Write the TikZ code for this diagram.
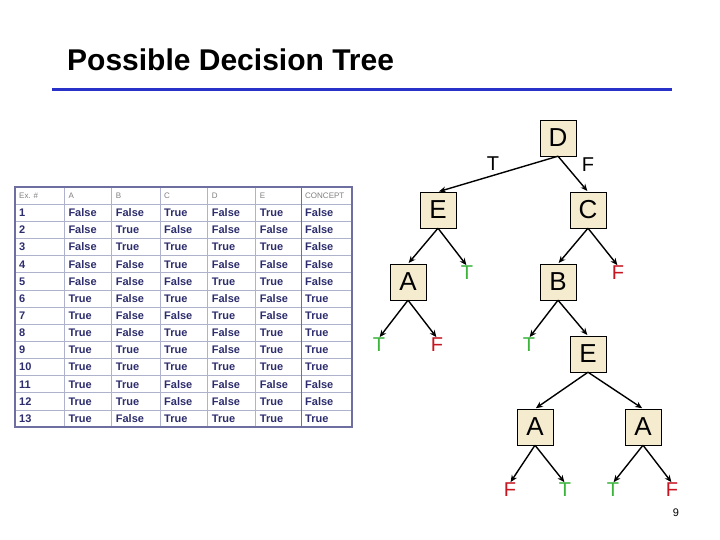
\documentclass[tikz,border=0pt]{standalone}
\usepackage{fontspec}
\setmainfont{Liberation Sans}
\usetikzlibrary{arrows.meta}
\definecolor{boxfill}{RGB}{245,236,208}
\definecolor{leafgreen}{RGB}{60,180,60}
\definecolor{leafred}{RGB}{200,20,30}
\definecolor{tabtext}{RGB}{45,45,110}
\definecolor{tabgrid}{RGB}{175,178,205}
\definecolor{tabborder}{RGB}{110,110,160}
\definecolor{rule}{RGB}{40,50,200}
\begin{document}
\begin{tikzpicture}[x=1pt,y=-1pt,
  dnode/.style={draw=black,fill=boxfill,minimum size=36pt,inner sep=0pt,font=\fontsize{26}{26}\selectfont},
  tleaf/.style={text=leafgreen,inner sep=0pt,font=\fontsize{20}{20}\selectfont},
  fleaf/.style={text=leafred,inner sep=0pt,font=\fontsize{20}{20}\selectfont},
  elab/.style={inner sep=0pt,font=\fontsize{20}{20}\selectfont},
  edge/.style={draw=black,line width=1.4pt,shorten >=1pt,-{Stealth[length=7pt,width=6pt]}},
  cell/.style={anchor=base west,inner sep=0pt,text=tabtext,font=\fontsize{11}{11}\selectfont\bfseries},
  hcell/.style={anchor=base west,inner sep=0pt,text=gray,font=\fontsize{8}{8}\selectfont}]
\useasboundingbox (0,0) rectangle (720,540);
\fill[white] (0,0) rectangle (720,540);
\node[anchor=west,inner sep=0pt,font=\fontsize{30}{30}\selectfont\bfseries] (title) at (67,60) {Possible Decision Tree};
\draw[rule,line width=3pt] (52,90) coordinate (r1) -- (672,90) coordinate (r2);
\node[font=\fontsize{11}{11}\selectfont,inner sep=0pt] (pg) at (676,513) {9};
% table
\def\xs{{15,64.3,111.7,160,207.7,255.7,301,352}}
\foreach \i in {1,...,13} \draw[tabgrid,line width=0.6pt] (15,{187+17.14*\i}) -- (352,{187+17.14*\i});
\foreach \x in {64.3,111.7,160,207.7,255.7} \draw[tabgrid,line width=0.6pt] (\x,187) -- (\x,427);
\draw[tabborder,line width=1pt] (301,187) -- (301,427);
\draw[tabborder,line width=1.2pt] (15,187) rectangle (352,427);
\foreach \t [count=\c from 0] in {Ex. \#,A,B,C,D,E,CONCEPT}
  \node[hcell] (h\c) at ({\xs[\c]+4},199) {\t};
\foreach \row [count=\r] in {
 {False,False,True,False,True,False},
 {False,True,False,False,False,False},
 {False,True,True,True,True,False},
 {False,False,True,False,False,False},
 {False,False,False,True,True,False},
 {True,False,True,False,False,True},
 {True,False,False,True,False,True},
 {True,False,True,False,True,True},
 {True,True,True,False,True,True},
 {True,True,True,True,True,True},
 {True,True,False,False,False,False},
 {True,True,False,False,True,False},
 {True,False,True,True,True,True}}{
  \node[cell] (n\r) at (19,{199.5+17.14*\r}) {\r};
  \foreach \v [count=\c] in \row
    \node[cell] (c\r-\c) at ({\xs[\c]+4},{199.5+17.14*\r}) {\v};
}
% tree
\node[dnode] (D) at (558,138) {D};
\node[dnode] (E1) at (438,210) {E};
\node[dnode] (C) at (588,210) {C};
\node[dnode] (A1) at (408,282) {A};
\node[dnode] (B) at (558,282) {B};
\node[dnode] (E2) at (588,354) {E};
\node[dnode] (A2) at (535,427) {A};
\node[dnode] (A3) at (643,427) {A};
\node[tleaf] (l1) at (467,273) {T};
\node[fleaf] (l2) at (618,273) {F};
\node[tleaf] (l3) at (379,345) {T};
\node[fleaf] (l4) at (437,345) {F};
\node[tleaf] (l5) at (529,345) {T};
\node[fleaf] (l6) at (510,490) {F};
\node[tleaf] (l7) at (565,490) {T};
\node[tleaf] (l8) at (613,490) {T};
\node[fleaf] (l9) at (672,490) {F};
\node[elab] (tT) at (493,164) {T};
\node[elab] (tF) at (588,165) {F};
\draw[edge] (D.south) -- (E1.north);
\draw[edge] (D.south) -- (C.north);
\draw[edge] (E1.south) -- (A1.north);
\draw[edge] (E1.south) -- (l1.north);
\draw[edge] (C.south) -- (B.north);
\draw[edge] (C.south) -- (l2.north);
\draw[edge] (A1.south) -- (l3.north);
\draw[edge] (A1.south) -- (l4.north);
\draw[edge] (B.south) -- (l5.north);
\draw[edge] (B.south) -- (E2.north);
\draw[edge] (E2.south) -- (A2.north);
\draw[edge] (E2.south) -- (A3.north);
\draw[edge] (A2.south) -- (l6.north);
\draw[edge] (A2.south) -- (l7.north);
\draw[edge] (A3.south) -- (l8.north);
\draw[edge] (A3.south) -- (l9.north);
\end{tikzpicture}
\end{document}
